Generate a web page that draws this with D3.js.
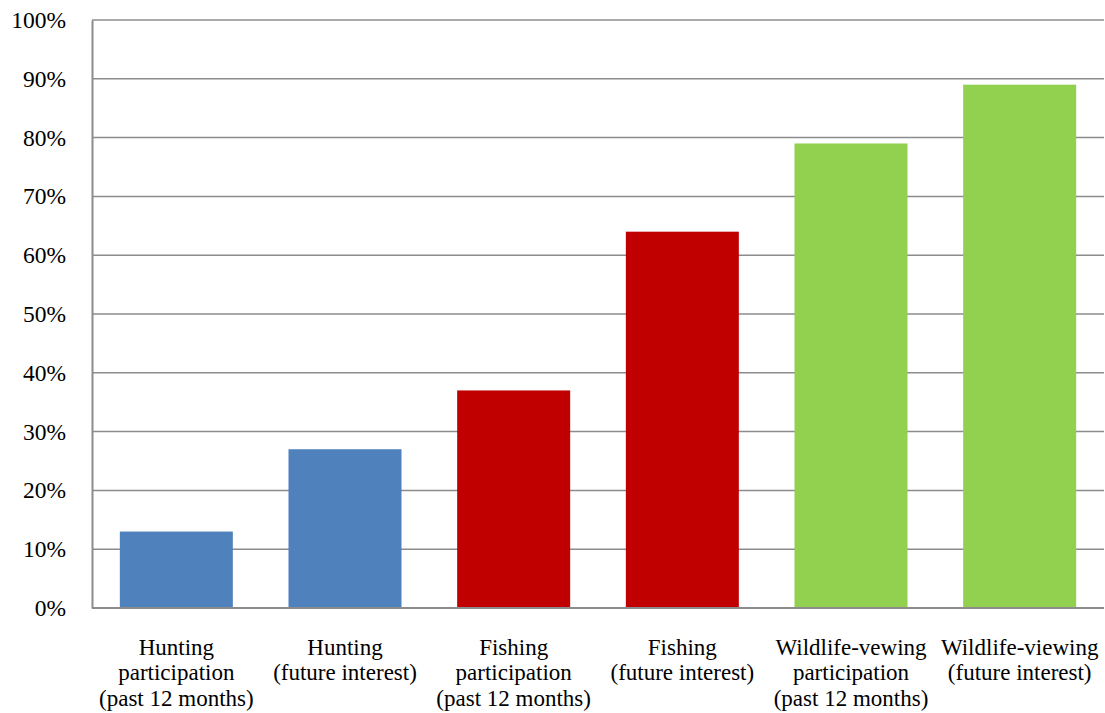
<!DOCTYPE html>
<html>
<head>
<meta charset="utf-8">
<script src="https://cdn.jsdelivr.net/npm/d3@7"></script>
<style>
  body { margin: 0; background: #fff; }
  svg { display: block; }
</style>
</head>
<body>
<svg id="chart" width="1105" height="713"></svg>
<script>
// Activity categories (each label split into lines)
const categories = [
  ["Hunting", "participation", "(past 12 months)"],
  ["Hunting", "(future interest)"],
  ["Fishing", "participation", "(past 12 months)"],
  ["Fishing", "(future interest)"],
  ["Wildlife-vewing", "participation", "(past 12 months)"],
  ["Wildlife-viewing", "(future interest)"]
];
// Percent of respondents
const values = [13, 27, 37, 64, 79, 89];
const barColors = ["#4F81BD", "#4F81BD", "#C00000", "#C00000", "#92D050", "#92D050"];
const yTicks = [0, 10, 20, 30, 40, 50, 60, 70, 80, 90, 100];

const FONT = '"Liberation Serif"';

const svg = d3.select("#chart");
const margin = { top: 20, right: 1, bottom: 105, left: 92 };
const width = 1105 - margin.left - margin.right;
const height = 713 - margin.top - margin.bottom;

const g = svg.append("g").attr("transform", `translate(${margin.left},${margin.top})`);

const x = d3.scaleBand()
  .domain(d3.range(categories.length))
  .range([0, width])
  .paddingInner(0.33)
  .paddingOuter(0.165);

const y = d3.scaleLinear().domain([0, 100]).range([height, 0]);

// Horizontal gridlines
g.append("g")
  .selectAll("line")
  .data(yTicks.filter(d => d > 0))
  .join("line")
  .attr("x1", 0).attr("x2", width)
  .attr("y1", d => y(d)).attr("y2", d => y(d))
  .attr("stroke", "#8c8c8c")
  .attr("stroke-width", 1.5);

// Bars
g.append("g")
  .selectAll("rect")
  .data(values)
  .join("rect")
  .attr("x", (d, i) => x(i))
  .attr("width", x.bandwidth())
  .attr("y", d => y(d))
  .attr("height", d => y(0) - y(d))
  .attr("fill", (d, i) => barColors[i]);

// Y axis
const yAxis = g.append("g")
  .call(d3.axisLeft(y).tickValues(yTicks).tickFormat(d => d + "%").tickSize(0).tickPadding(26))
  .attr("font-family", null)
  .attr("font-size", null);
yAxis.select(".domain").attr("stroke", "#8c8c8c").attr("stroke-width", 2);
yAxis.selectAll("text")
  .style("font-family", FONT)
  .style("font-size", "23.5px")
  .style("fill", "#000");

// X axis line
g.append("line")
  .attr("x1", 0).attr("x2", width)
  .attr("y1", height).attr("y2", height)
  .attr("stroke", "#8c8c8c").attr("stroke-width", 2);

// Category labels
const labels = g.append("g")
  .selectAll("text")
  .data(categories)
  .join("text")
  .attr("text-anchor", "middle")
  .style("font-family", FONT)
  .style("font-size", "23px")
  .style("fill", "#000")
  .attr("transform", (d, i) => `translate(${x(i) + x.bandwidth() / 2},${height + 47})`);
labels.selectAll("tspan")
  .data(d => d)
  .join("tspan")
  .attr("x", 0)
  .attr("dy", (d, j) => j === 0 ? 0 : 25.3)
  .text(d => d);
</script>
</body>
</html>
